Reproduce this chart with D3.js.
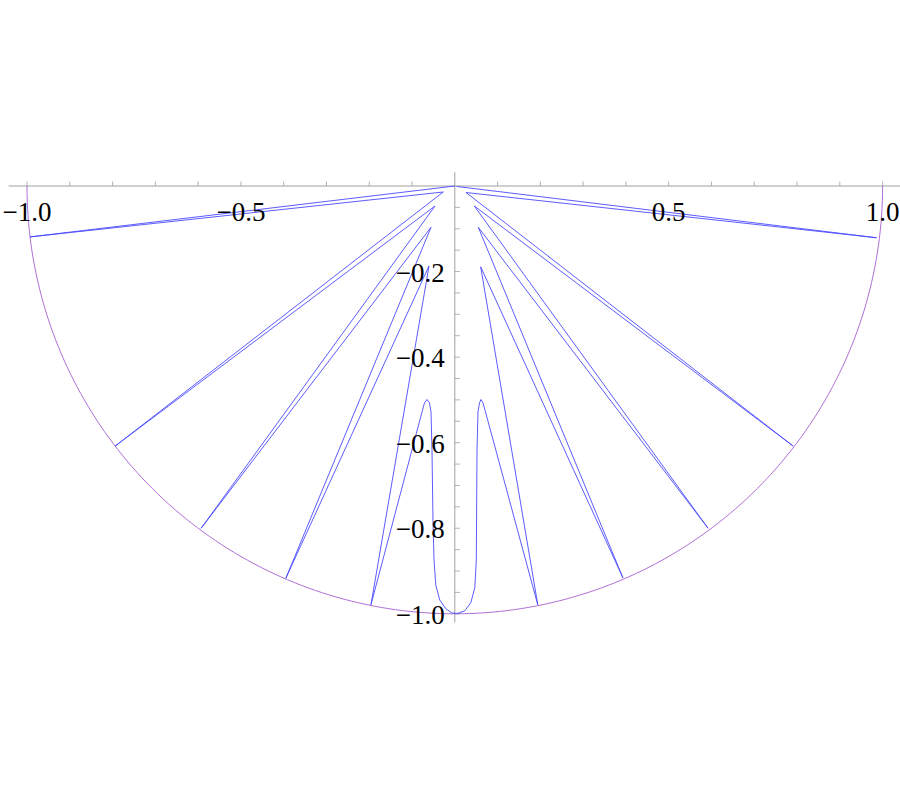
<!DOCTYPE html>
<html><head><meta charset="utf-8">
<script src="https://cdn.jsdelivr.net/npm/d3@7"></script>
<style>body{margin:0;background:#fff}svg{display:block}
text{font-family:"Liberation Serif","Times New Roman",Times,serif;}</style>
</head><body>
<svg id="c" width="900" height="800"></svg>
<script>
// curve vertices (data units)
const curveX = [0, -0.993, -0.027, -0.794, -0.0463, -0.593, -0.0556, -0.395, -0.0603, -0.196,
  -0.0755, -0.0709, -0.065, -0.0592, -0.0556, -0.0533, -0.051, -0.0486, -0.0444, -0.0351, -0.0210,
  -0.0070, 0.0070, 0.0234, 0.0374, 0.0468, 0.0503, 0.0519, 0.0542, 0.0577, 0.0612, 0.0659, 0.0706,
  0.194, 0.0605, 0.393, 0.0549, 0.592, 0.0456, 0.791, 0.0262, 0.986, 0.004];
const curveY = [0, -0.119, -0.014, -0.608, -0.0468, -0.800, -0.0965, -0.917, -0.187, -0.979,
  -0.524, -0.507, -0.499, -0.507, -0.528, -0.617, -0.781, -0.874, -0.933, -0.968, -0.988,
  -0.998, -0.999, -0.993, -0.974, -0.939, -0.874, -0.617, -0.528, -0.507, -0.499, -0.507, -0.524,
  -0.979, -0.189, -0.916, -0.0965, -0.800, -0.0468, -0.608, -0.0152, -0.121, -0.001];
const circleRadius = 1;
const xTicks = d3.range(-10, 11).filter(d => d !== 0).map(d => d / 10);
const yTicks = d3.range(1, 21).map(d => -d / 20);
const xLabels = [-1.0, -0.5, 0.5, 1.0];
const yLabels = [-0.2, -0.4, -0.6, -0.8, -1.0];

const svg = d3.select("#c");
const x = d3.scaleLinear().domain([-1, 1]).range([27, 882.6]);
const y = d3.scaleLinear().domain([0, -1]).range([186, 613.8]);
const fmt = v => (v < 0 ? "\u2212" : "") + Math.abs(v).toFixed(1);

const axisColor = "#a0a0a0";
// x axis
svg.append("line").attr("x1", x(-1.043)).attr("x2", x(1.045)).attr("y1", y(0)).attr("y2", y(0))
  .attr("stroke", axisColor).attr("stroke-width", 1);
svg.selectAll(".xt").data(xTicks).enter().append("line")
  .attr("x1", d => x(d)).attr("x2", d => x(d)).attr("y1", y(0)).attr("y2", y(0) - 4.5)
  .attr("stroke", axisColor).attr("stroke-width", 0.8);
// y axis
svg.append("line").attr("x1", x(0)).attr("x2", x(0)).attr("y1", y(0.032)).attr("y2", y(-1.02))
  .attr("stroke", axisColor).attr("stroke-width", 1);
svg.selectAll(".yt").data(yTicks).enter().append("line")
  .attr("x1", x(0)).attr("x2", x(0) + 5).attr("y1", d => y(d)).attr("y2", d => y(d))
  .attr("stroke", axisColor).attr("stroke-width", 0.8);

// semicircle
const arcPts = d3.range(0, 181).map(i => {
  const t = Math.PI + i * Math.PI / 180;
  return [circleRadius * Math.cos(t), circleRadius * Math.sin(t)];
});
svg.append("path").datum(arcPts)
  .attr("d", d3.line().x(d => x(d[0])).y(d => y(d[1])))
  .attr("fill", "none").attr("stroke", "#b070d8").attr("stroke-width", 1);

// blue curve
const pts = curveX.map((v, i) => [v, curveY[i]]);
svg.append("path").datum(pts)
  .attr("d", d3.line().x(d => x(d[0])).y(d => y(d[1])))
  .attr("fill", "none").attr("stroke", "#4a4aff").attr("stroke-width", 0.9)
  .attr("stroke-linejoin", "miter");

// labels
svg.selectAll(".xl").data(xLabels).enter().append("text")
  .attr("x", d => x(d)).attr("y", y(0) + 35)
  .attr("text-anchor", "middle").attr("font-size", 27)
  .attr("fill", "#000").text(fmt);
svg.selectAll(".yl").data(yLabels).enter().append("text")
  .attr("x", x(0) - 10).attr("y", d => y(d) + 10)
  .attr("text-anchor", "end").attr("font-size", 27)
  .attr("fill", "#000").text(fmt);
</script>
</body></html>
